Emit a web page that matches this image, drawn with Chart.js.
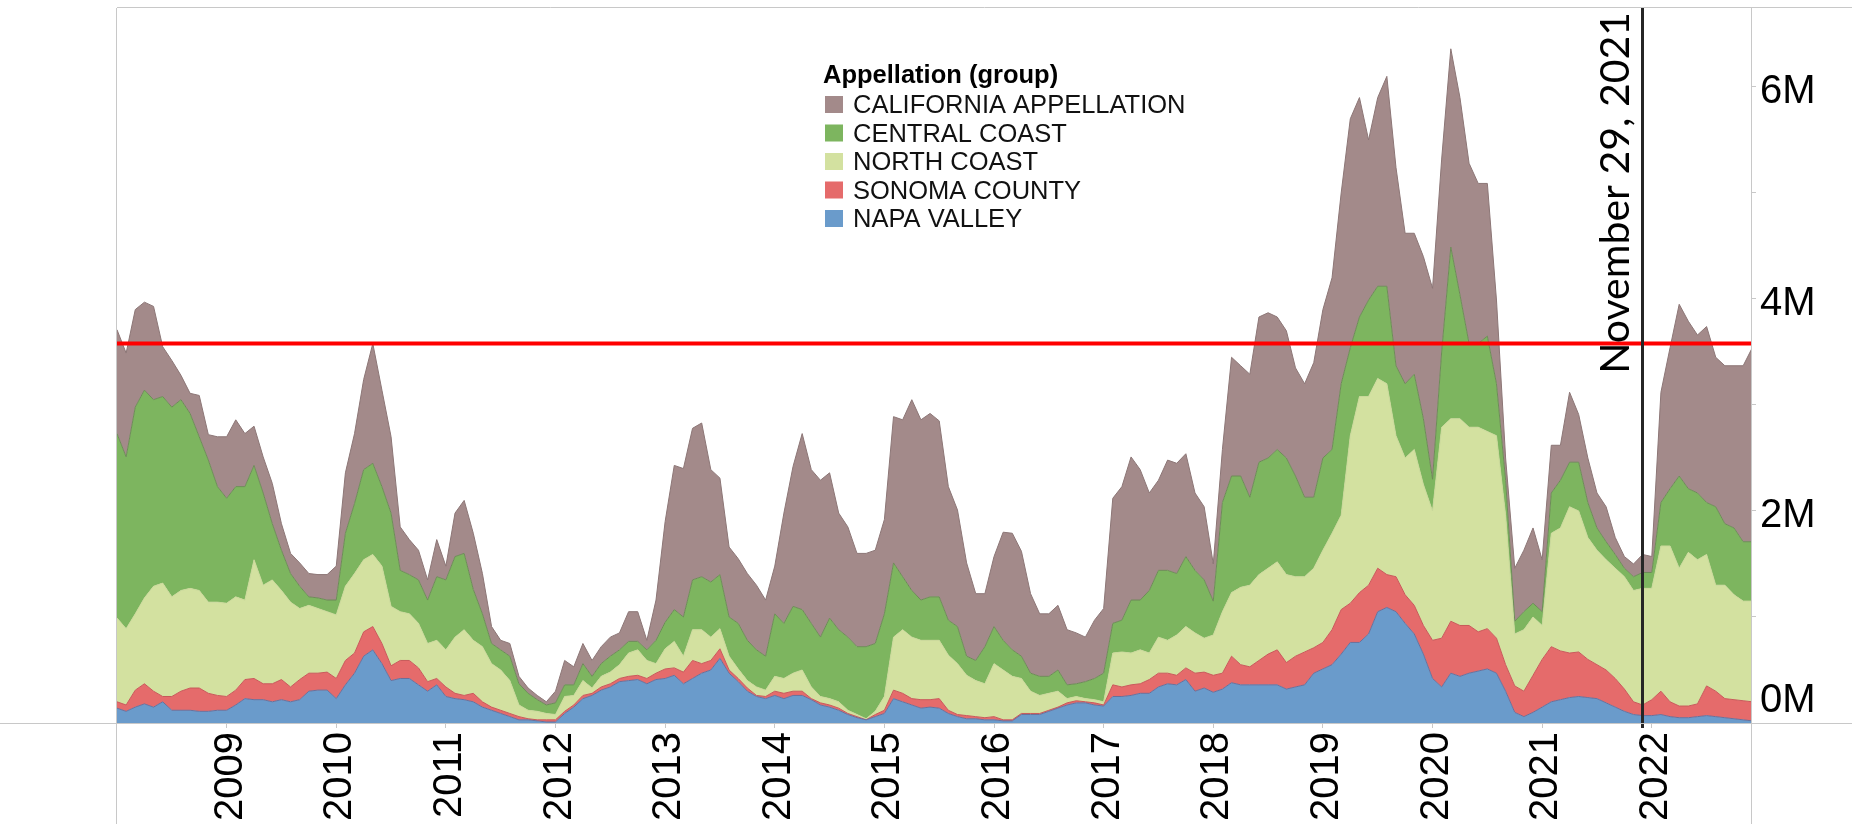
<!DOCTYPE html>
<html>
<head>
<meta charset="utf-8">
<script src="https://cdn.jsdelivr.net/npm/chart.js@4.4.1/dist/chart.umd.min.js"></script>
<style>
  html, body { margin: 0; padding: 0; background: #fff; }
  #wrap { width: 1852px; height: 824px; position: relative; }
</style>
</head>
<body>
<div id="wrap"><canvas id="chart" width="1852" height="824"></canvas></div>
<script>
'use strict';

// monthly values in millions, Jan 2008 .. Dec 2022
const napaValley = [
    .14, .11, .15, .18, .15, .20, .12, .12, .12, .11,
    .11, .12, .12, .17, .23, .22, .22, .20, .22, .20,
    .22, .30, .31, .31, .23, .36, .47, .63, .69, .56,
    .40, .42, .42, .36, .30, .36, .25, .23, .22, .20,
    .15, .12, .09, .06, .03, .03, .02, .01, .01, .09,
    .15, .23, .26, .31, .34, .39, .40, .41, .37, .41,
    .42, .45, .37, .42, .47, .50, .61, .47, .39, .30,
    .25, .23, .26, .23, .26, .26, .22, .17, .15, .12,
    .08, .05, .03, .06, .09, .23, .20, .17, .14, .15,
    .14, .09, .06, .04, .04, .03, .03, .02, .02, .08,
    .08, .08, .11, .14, .17, .19, .19, .17, .16, .25,
    .25, .26, .28, .28, .34, .37, .36, .41, .30, .33,
    .29, .32, .38, .36, .36, .36, .36, .36, .32, .34,
    .36, .47, .51, .55, .65, .76, .76, .84, 1.05, 1.09,
    1.05, .94, .84, .65, .42, .34, .47, .44, .47, .49,
    .51, .47, .30, .10, .06, .10, .15, .20, .22, .24,
    .25, .24, .23, .19, .15, .11, .08, .07, .07, .08,
    .06, .05, .05, .06, .07, .06, .05, .04, .03, .02
];
const sonomaCounty = [
    .06, .06, .16, .19, .15, .05, .13, .18, .21, .22,
    .17, .14, .13, .14, .18, .20, .15, .17, .19, .14,
    .19, .17, .16, .17, .19, .23, .19, .23, .22, .19,
    .14, .17, .17, .16, .09, .06, .09, .05, .04, .08,
    .05, .03, .03, .03, .03, .01, .01, .02, .02, .02,
    .02, .03, .02, .03, .03, .03, .04, .04, .05, .06,
    .09, .07, .11, .17, .09, .09, .09, .03, .03, .03,
    .01, .02, .04, .05, .04, .04, .01, .02, .02, .02,
    .01, .01, .00, .02, .03, .08, .08, .06, .08, .07,
    .09, .03, .02, .03, .02, .02, .03, .01, .01, .01,
    .01, .01, .01, .01, .02, .02, .01, .02, .01, .11,
    .09, .10, .09, .13, .13, .10, .09, .11, .17, .15,
    .16, .15, .25, .19, .17, .23, .29, .33, .25, .29,
    .31, .24, .25, .33, .42, .37, .47, .46, .41, .31,
    .33, .27, .27, .27, .36, .46, .49, .48, .45, .37,
    .38, .33, .25, .25, .24, .35, .45, .52, .46, .42,
    .42, .36, .32, .31, .27, .21, .12, .10, .15, .22,
    .14, .11, .11, .12, .28, .24, .18, .18, .18, .18
];
const northCoast = [
    .79, .72, .72, .81, .99, 1.07, .94, .95, .94, .92,
    .86, .88, .88, .88, .75, 1.12, .93, .98, .84, .80,
    .67, .64, .61, .57, .60, .70, .75, .68, .68, .73,
    .56, .46, .44, .42, .36, .36, .35, .53, .62, .50,
    .52, .41, .38, .31, .11, .08, .08, .06, .05, .14,
    .09, .14, .05, .10, .11, .13, .22, .24, .17, .09,
    .19, .25, .15, .29, .32, .22, .19, .13, .09, .07,
    .08, .06, .14, .14, .17, .20, .11, .06, .06, .06,
    .03, .02, .01, .03, .13, .50, .60, .58, .56, .56,
    .55, .52, .48, .38, .34, .32, .50, .47, .41, .33,
    .21, .17, .16, .15, .04, .04, .03, .03, .03, .30,
    .33, .30, .32, .25, .34, .31, .38, .39, .38, .32,
    .38, .58, .60, .73, .77, .81, .81, .83, .83, .75,
    .71, .75, .87, .91, .89, 1.58, 1.85, 1.78, 1.79, 1.80,
    1.33, 1.29, 1.47, 1.33, 1.22, 1.99, 1.91, 1.95, 1.87, 1.93,
    1.86, 1.91, 1.41, .49, .58, .55, .32, 1.07, 1.16, 1.38,
    1.33, 1.15, 1.08, 1.04, 1.04, 1.06, 1.05, 1.10, 1.05, 1.37,
    1.47, 1.30, 1.45, 1.36, 1.24, 1.00, 1.07, .99, .94, .95
];
const centralCoast = [
    1.74, 1.62, 1.95, 1.96, 1.76, 1.76, 1.79, 1.80, 1.65, 1.45,
    1.34, 1.09, .99, 1.04, 1.07, .89, .87, .53, .38, .27,
    .21, .08, .10, .11, .14, .50, .66, .85, .86, .75,
    .88, .39, .37, .41, .41, .60, .66, .76, .72, .48,
    .31, .19, .19, .23, .20, .16, .11, .08, .11, .11,
    .10, .16, .11, .12, .15, .14, .11, .08, .10, .22,
    .25, .30, .37, .47, .50, .52, .51, .37, .43, .38,
    .35, .32, .59, .52, .63, .57, .60, .56, .76, .68,
    .69, .64, .68, .64, .78, .70, .50, .44, .38, .41,
    .41, .33, .35, .18, .19, .35, .35, .28, .25, .21,
    .17, .18, .16, .20, .13, .12, .16, .20, .27, .28,
    .30, .50, .47, .59, .63, .66, .58, .66, .59, .55,
    .32, 1.03, 1.10, 1.05, .83, 1.06, 1.04, 1.06, 1.10, .95,
    .75, .67, .87, .79, 1.24, .83, .75, .91, .87, .92,
    .66, .70, .71, .62, .30, .71, 1.62, 1.17, .79, .79,
    .90, .49, .33, .12, .17, .13, .13, .38, .45, .42,
    .46, .33, .21, .17, .13, .08, .13, .15, .15, .41,
    .54, .87, .60, .63, .49, .74, .58, .63, .56, .56
];
const californiaAppellation = [
    .98, .98, .92, .83, .88, .47, .44, .23, .19, .39,
    .24, .47, .58, .63, .50, .37, .34, .38, .25, .19,
    .22, .22, .22, .24, .32, .57, .66, .85, 1.13, .91,
    .72, .41, .33, .28, .19, .35, .13, .41, .50, .53,
    .38, .16, .09, .12, .07, .05, .04, .03, .11, .23,
    .17, .19, .15, .16, .18, .16, .28, .28, .09, .38,
    .95, 1.36, 1.40, 1.43, 1.45, 1.06, .91, .66, .61, .63,
    .61, .53, .45, 1.04, 1.32, 1.66, 1.45, 1.48, 1.37, 1.10,
    1.04, .88, .88, .88, .89, 1.38, 1.48, 1.80, 1.70, 1.73,
    1.66, 1.26, 1.10, .88, .63, .50, .66, 1.02, 1.10, .99,
    .75, .59, .59, .61, .52, .48, .42, .55, .61, 1.18,
    1.26, 1.35, 1.23, .92, .85, 1.04, 1.04, .97, .73, .69,
    .35, .50, 1.12, 1.04, 1.16, 1.37, 1.37, 1.25, 1.20, 1.02,
    1.07, 1.27, 1.40, 1.62, 1.80, 2.16, 2.07, 1.51, 1.78, 1.98,
    1.87, 1.42, 1.33, 1.53, 1.80, 1.82, 1.87, 1.86, 1.70, 1.51,
    1.44, .79, .21, .50, .58, .71, .49, .45, .33, .66,
    .45, .42, .33, .33, .16, .11, .12, .17, .15, 1.04,
    1.33, 1.62, 1.58, 1.49, 1.66, 1.41, 1.49, 1.53, 1.66, 1.83
];

const groupNames = ['NAPA VALLEY', 'SONOMA COUNTY', 'NORTH COAST', 'CENTRAL COAST', 'CALIFORNIA APPELLATION'];
const yearTicks = [2009, 2010, 2011, 2012, 2013, 2014, 2015, 2016, 2017, 2018, 2019, 2020, 2021, 2022];
const valueTicks = [0, 1, 2, 3, 4, 5, 6];
const markerDate = 2021 + 332 / 365;   // November 29, 2021
const markerLabel = 'November 29, 2021';
const referenceLevel = 3.58;
const legendTitle = 'Appellation (group)';

const monthPos = napaValley.map((_, i) => 2008 + i / 12);

const fills = ['#6a9bcb', '#e56b6b', '#d3e1a0', '#7db55f', '#a38a8a'];
const lines = ['#6a6f9a', '#c85a5a', '#c9d89a', '#6e8a58', '#8c7676'];
const allSeries = [napaValley, sonomaCounty, northCoast, centralCoast, californiaAppellation];

const datasets = allSeries.map((values, i) => ({
    label: groupNames[i],
    data: values.map((v, j) => ({ x: monthPos[j], y: v })),
    backgroundColor: fills[i],
    borderColor: lines[i],
    borderWidth: 1,
    fill: i === 0 ? 'origin' : '-1',
    pointRadius: 0,
    tension: 0
}));

const sans = 'Liberation Sans, Arial, sans-serif';

// no extra padding for edge labels, the frame is fixed
function fixBox(axis, size) {
    if (axis.isHorizontal()) axis.height = size; else axis.width = size;
    axis.paddingTop = 0;
    axis.paddingBottom = 0;
    axis.paddingLeft = 0;
    axis.paddingRight = 0;
}

const overlay = {
    id: 'overlay',
    afterDatasetsDraw(chart) {
        const { ctx, chartArea: a, scales: { x, y } } = chart;
        ctx.save();
        // reference level
        const ry = y.getPixelForValue(referenceLevel);
        ctx.strokeStyle = '#ff0000';
        ctx.lineWidth = 4;
        ctx.beginPath();
        ctx.moveTo(a.left, ry);
        ctx.lineTo(a.right, ry);
        ctx.stroke();

        // date marker
        const mx = Math.round(x.getPixelForValue(markerDate)) + 0.5;
        ctx.strokeStyle = '#262626';
        ctx.lineWidth = 3;
        ctx.beginPath();
        ctx.moveTo(mx, a.top);
        ctx.lineTo(mx, a.bottom + 5);
        ctx.stroke();

        ctx.translate(mx - 14, a.top + 4);
        ctx.rotate(-Math.PI / 2);
        ctx.fillStyle = '#000';
        ctx.font = '41px Lato, sans-serif';
        ctx.textAlign = 'right';
        ctx.textBaseline = 'alphabetic';
        ctx.fillText(markerLabel, 0, 0);
        ctx.restore();
    },
    afterDraw(chart) {
        const { ctx, chartArea: a, scales: { y } } = chart;
        ctx.save();
        // frame
        ctx.strokeStyle = '#c8c8c8';
        ctx.lineWidth = 1;
        ctx.beginPath();
        ctx.moveTo(a.left, a.top - 0.5);
        ctx.lineTo(chart.width, a.top - 0.5);
        ctx.moveTo(0, a.bottom + 0.5);
        ctx.lineTo(chart.width, a.bottom + 0.5);
        ctx.moveTo(a.left - 0.5, a.top);
        ctx.lineTo(a.left - 0.5, chart.height);
        ctx.moveTo(a.right + 0.5, a.top);
        ctx.lineTo(a.right + 0.5, chart.height);
        ctx.stroke();

        // bottom value label sits above the axis line
        ctx.fillStyle = '#000';
        ctx.font = '40px ' + sans;
        ctx.textAlign = 'left';
        ctx.textBaseline = 'alphabetic';
        ctx.fillText(valueTicks[0] + 'M', a.right + 9, y.getPixelForValue(0) - 11);

        // legend
        ctx.font = 'bold 25.5px ' + sans;
        ctx.fillText(legendTitle, 823, 83);
        ctx.font = '25.5px ' + sans;
        const ds = chart.data.datasets;
        for (let k = 0; k < ds.length; k++) {
            const item = ds[ds.length - 1 - k];
            const base = 113 + k * 28.5;
            ctx.fillStyle = item.backgroundColor;
            ctx.fillRect(825, base - 17, 18, 17);
            ctx.fillStyle = '#111';
            ctx.fillText(item.label, 853, base);
        }
        ctx.restore();
    }
};

new Chart(document.getElementById('chart').getContext('2d'), {
    type: 'line',
    data: { datasets: datasets },
    plugins: [overlay],
    options: {
        responsive: false,
        animation: false,
        layout: { padding: { left: 117, top: 8, right: 0, bottom: 0 } },
        plugins: {
            legend: { display: false },
            tooltip: { enabled: false }
        },
        scales: {
            x: {
                type: 'linear',
                min: 2008,
                max: 2022.905,
                afterBuildTicks: axis => { axis.ticks = yearTicks.map(v => ({ value: v })); },
                afterFit: axis => fixBox(axis, 101),
                border: { display: false },
                grid: { drawOnChartArea: false, tickLength: 5, color: '#c8c8c8' },
                ticks: {
                    autoSkip: false,
                    minRotation: 90,
                    maxRotation: 90,
                    padding: 4,
                    labelOffset: 4,
                    color: '#000',
                    font: { family: sans, size: 40 },
                    callback: v => String(v)
                }
            },
            y: {
                position: 'right',
                stacked: true,
                min: 0,
                max: 6.745,
                afterBuildTicks: axis => { axis.ticks = valueTicks.map(v => ({ value: v })); },
                afterFit: axis => fixBox(axis, 101),
                border: { display: false },
                grid: { drawOnChartArea: false, tickLength: 5, color: '#c8c8c8' },
                ticks: {
                    autoSkip: false,
                    padding: 4,
                    labelOffset: 5,
                    color: '#000',
                    font: { family: sans, size: 40 },
                    callback: v => (v > 0 && v % 2 === 0) ? v + 'M' : ''
                }
            }
        }
    }
});
</script>
</body>
</html>
